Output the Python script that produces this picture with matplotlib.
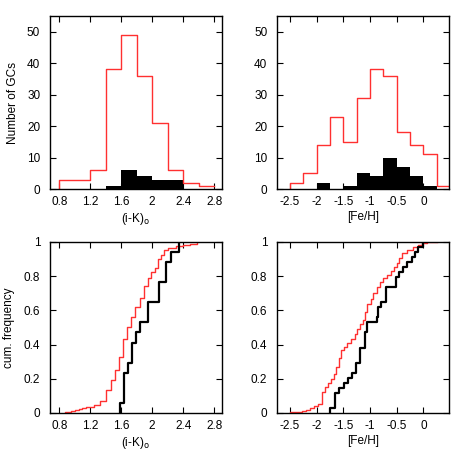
import matplotlib
matplotlib.use("Agg")
import matplotlib.pyplot as plt
import numpy as np

plt.rcParams['font.family'] = ['Liberation Sans', 'DejaVu Sans']
plt.rcParams['font.size'] = 8.5

# top-left histogram, (i-K)o
ik_edges = [0.8, 1.0, 1.2, 1.4, 1.6, 1.8, 2.0, 2.2, 2.4, 2.6, 2.8]
ik_all = [3, 3, 6, 38, 49, 36, 21, 6, 2, 1]
ik_sel = [0, 0, 0, 1, 6, 4, 3, 3, 0, 0]

# top-right histogram, [Fe/H]
fe_edges = [-2.5, -2.25, -2.0, -1.75, -1.5, -1.25, -1.0, -0.75, -0.5, -0.25, 0.0, 0.25, 0.5]
fe_all = [2, 5, 14, 23, 15, 29, 38, 36, 18, 14, 11, 1]
fe_sel = [0, 0, 2, 0, 1, 5, 4, 10, 7, 4, 1, 0]

# bottom-left cumulative, (i-K)o
ik_cum_all_x = [0.87, 0.95, 1.00, 1.05, 1.10, 1.15, 1.25, 1.33, 1.41, 1.47, 1.52, 1.57,
                1.62, 1.68, 1.73, 1.78, 1.84, 1.89, 1.94, 1.99, 2.03, 2.07, 2.12, 2.15,
                2.20, 2.31, 2.40, 2.49, 2.58]
ik_cum_all_y = [0.006, 0.012, 0.018, 0.024, 0.03, 0.036, 0.048, 0.07, 0.135, 0.19, 0.25, 0.33,
                0.43, 0.505, 0.563, 0.62, 0.67, 0.74, 0.79, 0.825, 0.85, 0.90, 0.924, 0.953,
                0.967, 0.975, 0.985, 0.99, 1.0]
ik_cum_sel_x = [1.59, 1.64, 1.69, 1.74, 1.79, 1.84, 1.94, 2.09, 2.18, 2.24, 2.34]
ik_cum_sel_n = [1, 4, 5, 7, 8, 9, 11, 13, 15, 16, 17]
n_ik_sel = 17

# bottom-right cumulative, [Fe/H]
fe_cum_all_x = [-2.5, -2.27, -2.2, -2.12, -2.06, -1.98, -1.90, -1.84, -1.79, -1.74, -1.68, -1.64,
                -1.59, -1.55, -1.49, -1.43, -1.36, -1.29, -1.24, -1.18, -1.14, -1.10, -1.05,
                -0.99, -0.94, -0.875, -0.81, -0.75, -0.69, -0.61, -0.56, -0.50, -0.45, -0.41,
                -0.31, -0.19, -0.10, -0.03, 0.06, 0.25]
fe_cum_all_y = [0.005, 0.01, 0.02, 0.03, 0.04, 0.05, 0.125, 0.154, 0.175, 0.2, 0.23, 0.267,
                0.32, 0.368, 0.384, 0.41, 0.43, 0.462, 0.49, 0.52, 0.544, 0.59, 0.64,
                0.665, 0.70, 0.738, 0.768, 0.788, 0.807, 0.83, 0.856, 0.875, 0.905, 0.934,
                0.953, 0.97, 0.982, 0.994, 1.0, 1.0]
fe_cum_sel_x = [-1.744, -1.65, -1.575, -1.49, -1.417, -1.33, -1.26, -1.19, -1.10, -1.05,
                -0.874, -0.843, -0.787, -0.70, -0.51, -0.46, -0.39, -0.31, -0.22, -0.155,
                -0.11, -0.01]
fe_cum_sel_n = [1, 4, 5, 6, 7, 8, 10, 13, 16, 18, 19, 21, 22, 25, 27, 28, 29, 30, 31, 32, 33, 34]
n_fe_sel = 34

RED = '#ff3030'


def style(ax, xlim, ylim, xticks, xlabels, yticks, ylabels):
    ax.set_xlim(*xlim)
    ax.set_ylim(*ylim)
    ax.set_xticks(xticks)
    ax.set_xticklabels(xlabels)
    ax.set_yticks(yticks)
    ax.set_yticklabels(ylabels)
    ax.tick_params(direction='in', top=True, right=True, length=4.5, width=0.8)
    ax.tick_params(axis='x', pad=5)
    ax.tick_params(axis='y', pad=7)
    for s in ax.spines.values():
        s.set_linewidth(1.0)


def hist(ax, edges, all_counts, sel_counts):
    ax.stairs(sel_counts, edges, fill=True, color='black', lw=0)
    x = [edges[0]] + list(edges)
    y = [0] + list(all_counts) + [all_counts[-1]]
    ax.step(x, y, where='post', color=RED, lw=1.0)


def cum(ax, x, y, **kw):
    xs = [x[0]] + list(x)
    ys = [0] + list(y)
    ax.step(xs, ys, where='post', **kw)


fig = plt.figure(figsize=(4.58, 4.58), dpi=100)
w, h_top, h_bot = 0.3755, 0.3777, 0.3734
ax1 = fig.add_axes([0.109, 0.5873, w, h_top])
ax2 = fig.add_axes([0.6048, 0.5873, w, h_top])
ax3 = fig.add_axes([0.109, 0.0983, w, h_bot])
ax4 = fig.add_axes([0.6048, 0.0983, w, h_bot])

ik_ticks = [0.8, 1.2, 1.6, 2.0, 2.4, 2.8]
ik_tl = ['0.8', '1.2', '1.6', '2', '2.4', '2.8']
fe_ticks = [-2.5, -2.0, -1.5, -1.0, -0.5, 0.0]
fe_tl = ['-2.5', '-2', '-1.5', '-1', '-0.5', '0']
n_ticks = [0, 10, 20, 30, 40, 50]
c_ticks = [0, 0.2, 0.4, 0.6, 0.8, 1.0]
c_tl = ['0', '0.2', '0.4', '0.6', '0.8', '1']

hist(ax1, ik_edges, ik_all, ik_sel)
style(ax1, (0.68, 2.9), (0, 55), ik_ticks, ik_tl, n_ticks, [str(t) for t in n_ticks])
ax1.set_xlabel('(i-K)$_\\mathrm{o}$', labelpad=2)
ax1.set_ylabel('Number of GCs', labelpad=6)

hist(ax2, fe_edges, fe_all, fe_sel)
style(ax2, (-2.745, 0.48), (0, 55), fe_ticks, fe_tl, n_ticks, [str(t) for t in n_ticks])
ax2.set_xlabel('[Fe/H]', labelpad=2)

cum(ax3, ik_cum_all_x, ik_cum_all_y, color=RED, lw=1.0)
cum(ax3, ik_cum_sel_x, np.array(ik_cum_sel_n) / n_ik_sel, color='black', lw=1.6)
style(ax3, (0.68, 2.9), (0, 1), ik_ticks, ik_tl, c_ticks, c_tl)
ax3.set_xlabel('(i-K)$_\\mathrm{o}$', labelpad=2)
ax3.set_ylabel('cum. frequency', labelpad=6)

cum(ax4, fe_cum_all_x, fe_cum_all_y, color=RED, lw=1.0)
cum(ax4, fe_cum_sel_x, np.array(fe_cum_sel_n) / n_fe_sel, color='black', lw=1.6)
style(ax4, (-2.745, 0.48), (0, 1), fe_ticks, fe_tl, c_ticks, c_tl)
ax4.set_xlabel('[Fe/H]', labelpad=2)

fig.savefig('out.png', dpi=100)
